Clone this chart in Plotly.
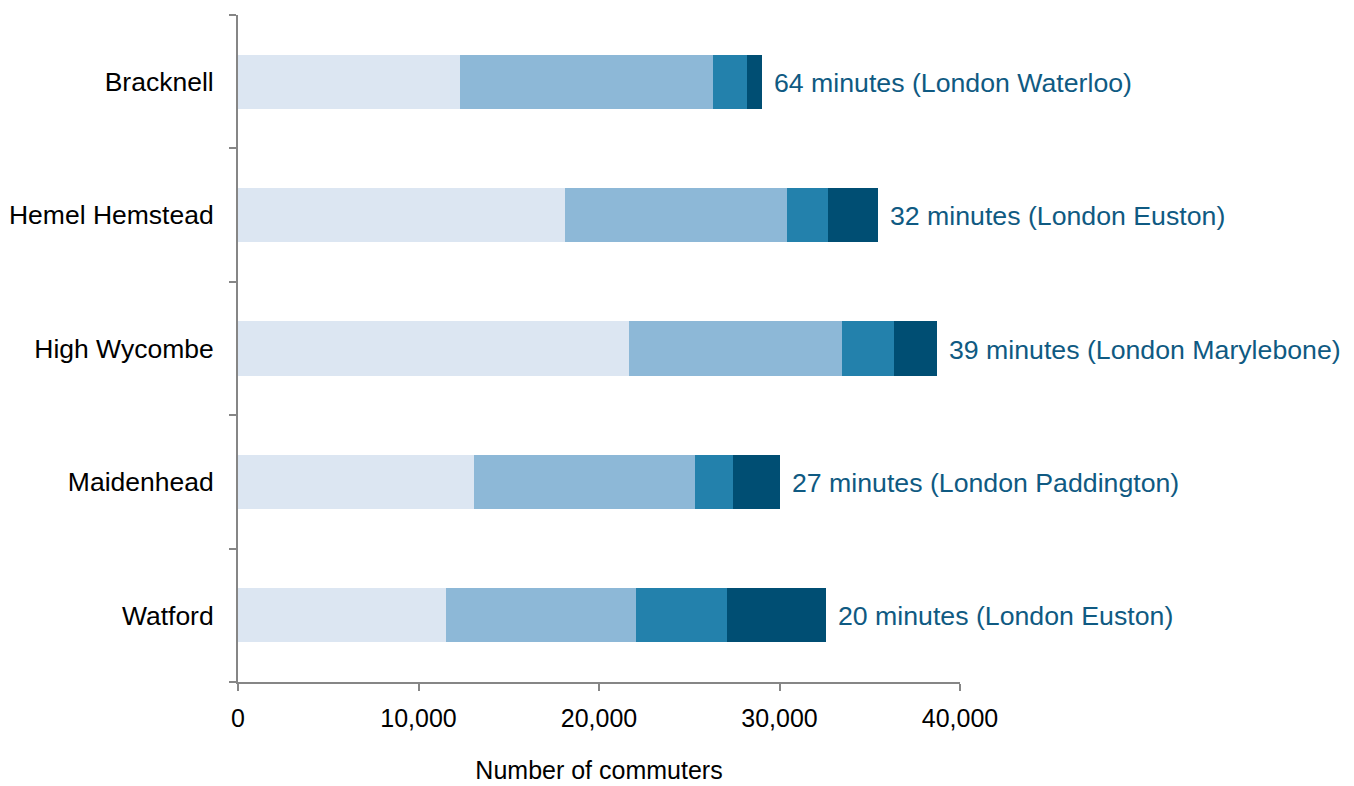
import plotly.graph_objects as go

towns = ["Bracknell", "Hemel Hemstead", "High Wycombe", "Maidenhead", "Watford"]
seg1 = [12300, 18100, 21650, 13070, 11520]
seg2 = [14020, 12300, 11800, 12250, 10530]
seg3 = [1880, 2270, 2900, 2100, 5020]
seg4 = [830, 2770, 2380, 2600, 5510]
journey_labels = [
    "64 minutes (London Waterloo)",
    "32 minutes (London Euston)",
    "39 minutes (London Marylebone)",
    "27 minutes (London Paddington)",
    "20 minutes (London Euston)",
]

seg_names = ["Segment 1", "Segment 2", "Segment 3", "Segment 4"]
seg_colors = ["#DCE6F2", "#8DB8D7", "#2381AC", "#004E73"]

FONT = "Liberation Sans, Arial"

fig = go.Figure()
for name, vals, col in zip(seg_names, [seg1, seg2, seg3, seg4], seg_colors):
    fig.add_trace(go.Bar(
        y=towns, x=vals, orientation="h", name=name,
        marker=dict(color=col, line=dict(width=0)),
    ))

totals = [a + b + c + d for a, b, c, d in zip(seg1, seg2, seg3, seg4)]
for town, tot, lab in zip(towns, totals, journey_labels):
    fig.add_annotation(
        x=tot, y=town, text=lab, showarrow=False, xanchor="left",
        xshift=10, yshift=-1, font=dict(family=FONT, size=26.7, color="#0F5A82"),
    )

fig.update_layout(
    barmode="stack",
    bargap=0.595,
    width=1346, height=778,
    margin=dict(l=230, r=394, t=7, b=104, autoexpand=False),
    paper_bgcolor="white", plot_bgcolor="white",
    showlegend=False,
    font=dict(family=FONT, size=26, color="#000000"),
    xaxis=dict(
        range=[0, 40000], tickvals=[0, 10000, 20000, 30000, 40000],
        tickformat=",d", showgrid=False, zeroline=False,
        showline=True, linecolor="#868686", linewidth=2,
        ticks="outside", ticklen=7, tickcolor="#868686", tickwidth=2,
        ticklabelstandoff=6,
        tickfont=dict(size=25), title=dict(text="Number of commuters", font=dict(size=25), standoff=30),
    ),
    yaxis=dict(
        categoryorder="array", categoryarray=towns[::-1],
        showgrid=False, zeroline=False,
        showline=True, linecolor="#868686", linewidth=2,
        ticks="outside", ticklen=7, tickcolor="#868686", tickwidth=2,
        tickson="boundaries", ticklabelstandoff=17,
        tickfont=dict(size=26.5),
    ),
)

fig.write_html("out.html")
